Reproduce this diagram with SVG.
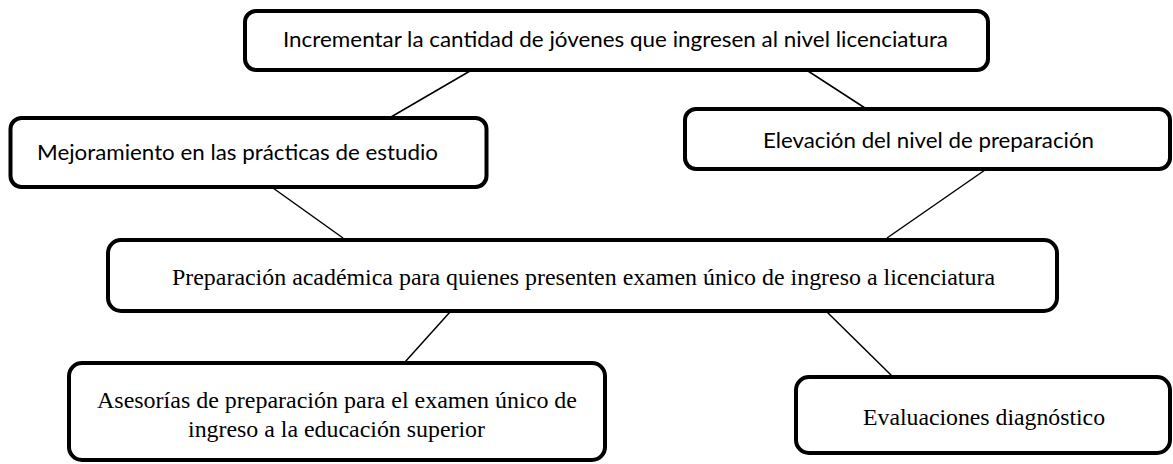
<svg xmlns="http://www.w3.org/2000/svg" width="1173" height="464" viewBox="0 0 1173 464">
<style>
.box{fill:#fff;stroke:#000;stroke-width:4}
.sans{font-family:Lato,"Liberation Sans",sans-serif;font-size:22px;fill:#000}
.serif{font-family:"Liberation Serif","Times New Roman",serif;font-size:24px;fill:#000}
.conn line{stroke:#000;stroke-width:1.5}
</style>
<rect width="1173" height="464" fill="#fff"/>
<g id="connectors" class="conn">
<line x1="470" y1="71" x2="391" y2="117"/>
<line x1="808" y1="71" x2="865" y2="108"/>
<line x1="273" y1="188" x2="343" y2="238"/>
<line x1="985" y1="170" x2="887" y2="238"/>
<line x1="450" y1="312" x2="405" y2="362"/>
<line x1="827" y1="312" x2="892" y2="376"/>
</g>
<g id="n-incrementar">
<rect class="box" x="245" y="11" width="743" height="59" rx="11"/>
<text class="sans" x="283" y="47" textLength="665" lengthAdjust="spacingAndGlyphs">Incrementar la cantidad de jóvenes que ingresen al nivel licenciatura</text>
</g>
<g id="n-mejoramiento">
<rect class="box" x="10.5" y="118" width="476" height="69" rx="11"/>
<text class="sans" x="37" y="160" textLength="401" lengthAdjust="spacingAndGlyphs">Mejoramiento en las prácticas de estudio</text>
</g>
<g id="n-elevacion">
<rect class="box" x="685" y="109" width="485" height="60" rx="11"/>
<text class="sans" x="763" y="148" textLength="331" lengthAdjust="spacingAndGlyphs">Elevación del nivel de preparación</text>
</g>
<g id="n-preparacion">
<rect class="box" x="108" y="240" width="949" height="71" rx="13"/>
<text class="serif" x="172" y="285" textLength="823" lengthAdjust="spacingAndGlyphs">Preparación académica para quienes presenten examen único de ingreso a licenciatura</text>
</g>
<g id="n-asesorias">
<rect class="box" x="69" y="363" width="536" height="97" rx="13"/>
<text class="serif" x="97" y="408" textLength="480" lengthAdjust="spacingAndGlyphs">Asesorías de preparación para el examen único de</text>
<text class="serif" x="188" y="437" textLength="297" lengthAdjust="spacingAndGlyphs">ingreso a la educación superior</text>
</g>
<g id="n-evaluaciones">
<rect class="box" x="796" y="377" width="374" height="76" rx="13"/>
<text class="serif" x="863" y="425" textLength="242" lengthAdjust="spacingAndGlyphs">Evaluaciones diagnóstico</text>
</g>
</svg>
